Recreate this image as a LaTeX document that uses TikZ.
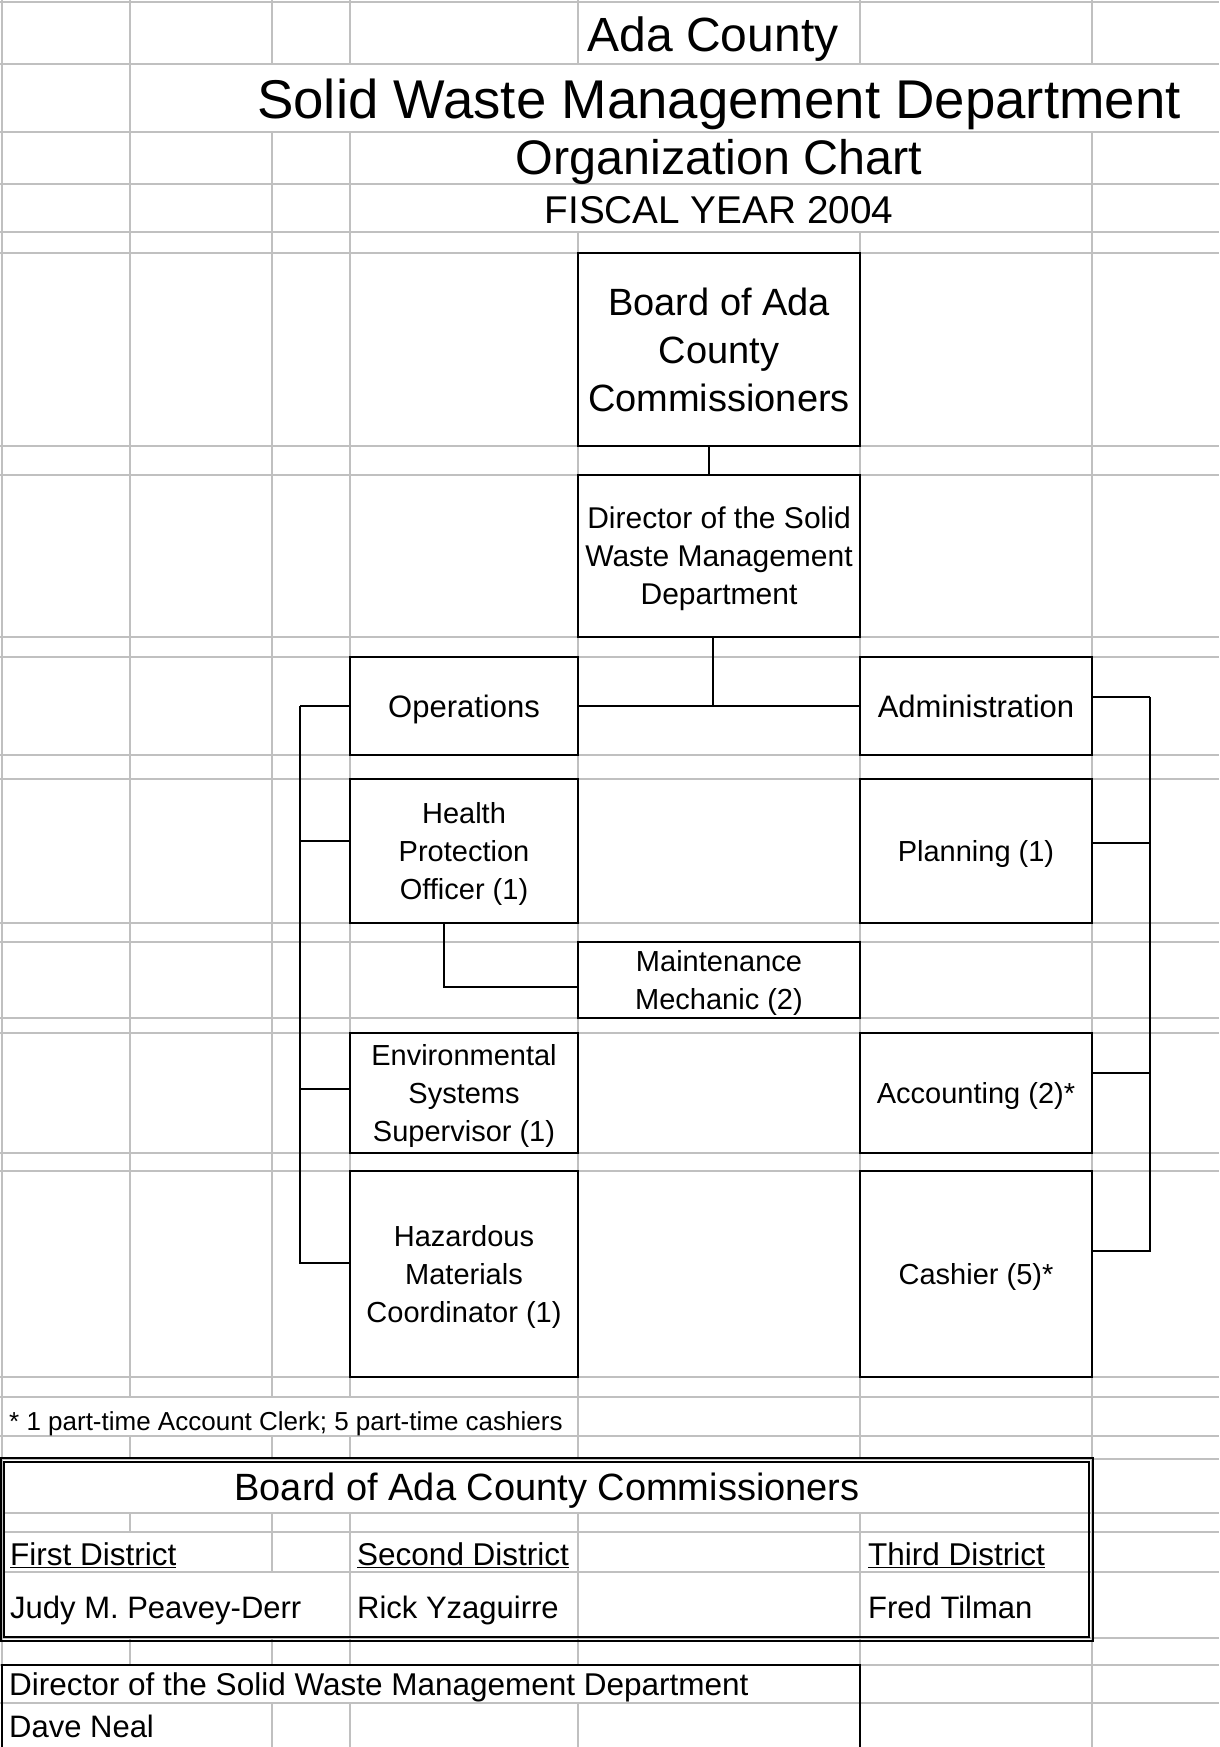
\documentclass[tikz,border=0pt]{standalone}
\usepackage{fontspec}
\setmainfont{Liberation Sans}
\begin{document}
\begin{tikzpicture}[x=1pt,y=-1pt,
  gridline/.style={line width=1.3pt,draw=gridcolor},
  box/.style={draw=black,line width=2pt,fill=white,align=center,inner sep=0pt,text depth=-4.5pt},
  link/.style={line width=1.4pt,draw=black},
  cell/.style={anchor=base west,inner sep=0pt},
  title/.style={anchor=base,inner sep=0pt}]
\definecolor{gridcolor}{RGB}{192,192,192}
\useasboundingbox (0,0) rectangle (1219,1747);
% sheet grid
\foreach \y in {2,64,132,184,232,253,446,475,637,657,755,779,923,942,1018,1033,1153,1171,1377,1397,1436,1459,1513,1532,1572,1638,1665,1703}
  \draw[gridline] (0,\y) -- (1219,\y);
\foreach \x/\a/\b in {2/0/1747,130/0/1397,130/1436/1459,130/1513/1532,130/1638/1665,
  272/0/64,272/132/1397,272/1436/1459,272/1513/1572,272/1638/1665,272/1703/1747,
  350/0/64,350/132/1397,350/1436/1459,350/1513/1665,350/1703/1747,
  578/0/64,578/232/1459,578/1513/1665,578/1703/1747,
  860/0/64,860/232/1459,860/1513/1747,1092/0/64,1092/132/1747}
  \draw[gridline] (\x,\a) -- (\x,\b);
% headings
\node[title,font=\fontsize{48}{58}\selectfont] (county) at (713,52) {Ada County};
\node[title,font=\fontsize{54.6}{64}\selectfont] (dept) at (719,119) {Solid Waste Management Department};
\node[title,font=\fontsize{48.5}{58}\selectfont] (chart) at (719,175) {Organization Chart};
\node[title,font=\fontsize{38.7}{46}\selectfont] (year) at (719,223) {FISCAL YEAR 2004};
% boxes
\node[box,text depth=-2pt,minimum width=282pt,minimum height=193pt,font=\fontsize{38}{48}\selectfont] (board) at (719,349.5) {Board of Ada\\County\\Commissioners};
\node[box,minimum width=282pt,minimum height=162pt,font=\fontsize{30}{38}\selectfont] (director) at (719,556) {Director of the Solid\\Waste Management\\Department};
\node[box,minimum width=228pt,minimum height=98pt,font=\fontsize{31}{38}\selectfont] (ops) at (464,706) {Operations};
\node[box,minimum width=232pt,minimum height=98pt,font=\fontsize{31}{38}\selectfont] (admin) at (976,706) {Administration};
\node[box,minimum width=228pt,minimum height=144pt,font=\fontsize{29}{38}\selectfont] (health) at (464,851) {Health\\Protection\\Officer (1)};
\node[box,minimum width=232pt,minimum height=144pt,font=\fontsize{29}{38}\selectfont] (planning) at (976,851) {Planning (1)};
\node[box,minimum width=282pt,minimum height=76pt,font=\fontsize{29}{38}\selectfont] (maint) at (719,980) {Maintenance\\Mechanic (2)};
\node[box,minimum width=228pt,minimum height=120pt,font=\fontsize{29}{38}\selectfont] (env) at (464,1093) {Environmental\\Systems\\Supervisor (1)};
\node[box,minimum width=232pt,minimum height=120pt,font=\fontsize{29}{38}\selectfont] (acct) at (976,1093) {Accounting (2)*};
\node[box,minimum width=228pt,minimum height=206pt,font=\fontsize{29}{38}\selectfont] (haz) at (464,1274) {Hazardous\\Materials\\Coordinator (1)};
\node[box,minimum width=232pt,minimum height=206pt,font=\fontsize{29}{38}\selectfont] (cashier) at (976,1274) {Cashier (5)*};
% connectors
\draw[link] ([xshift=-10pt]board.south) -- ([xshift=-10pt]director.north);
\draw[link] ([xshift=-6pt]director.south) -- ([xshift=-6pt]director.south |- ops.east);
\draw[link] (ops.east) -- (admin.west);
\draw[link] (ops.west) -- ++(-49,0) coordinate (lbar);
\draw[link] (lbar) -- ([yshift=11pt]haz.west -| lbar) -- ([yshift=11pt]haz.west);
\draw[link] ([yshift=10pt]health.west) -- ([yshift=10pt]health.west -| lbar);
\draw[link] ([yshift=4pt]env.west) -- ([yshift=4pt]env.west -| lbar);
\draw[link] ([xshift=-20pt]health.south) |- ([yshift=-7pt]maint.west);
\draw[link] ([yshift=9pt]admin.east) -- ++(57,0) coordinate (rbar);
\draw[link] (rbar) -- ([yshift=23pt]cashier.east -| rbar) -- ([yshift=23pt]cashier.east);
\draw[link] ([yshift=8pt]planning.east) -- ([yshift=8pt]planning.east -| rbar);
\draw[link] ([yshift=20pt]acct.east) -- ([yshift=20pt]acct.east -| rbar);
% footnote
\node[cell,font=\fontsize{26}{32}\selectfont] (note) at (9,1430) {* 1 part-time Account Clerk; 5 part-time cashiers};
% commissioners table
\draw[line width=2.5pt] (1,1458) rectangle (1093,1641);
\draw[line width=1.2pt] (4,1462) rectangle (1089,1637);
\node[title,font=\fontsize{38}{46}\selectfont] (boardtitle) at (547,1500) {Board of Ada County Commissioners};
\node[cell,font=\fontsize{31.5}{38}\selectfont] (first) at (10,1565) {\underline{First District}};
\node[cell,font=\fontsize{31.5}{38}\selectfont] (second) at (357,1565) {\underline{Second District}};
\node[cell,font=\fontsize{31.5}{38}\selectfont] (third) at (868,1565) {\underline{Third District}};
\node[cell,font=\fontsize{31}{38}\selectfont] (judy) at (10,1618) {Judy M. Peavey-Derr};
\node[cell,font=\fontsize{31}{38}\selectfont] (rick) at (357,1618) {Rick Yzaguirre};
\node[cell,font=\fontsize{31}{38}\selectfont] (fred) at (868,1618) {Fred Tilman};
% director table
\draw[line width=1.4pt] (2,1752) -- (2,1665) -- (860,1665) -- (860,1752);
\node[cell,font=\fontsize{31.5}{38}\selectfont] (dirtitle) at (9,1695) {Director of the Solid Waste Management Department};
\node[cell,font=\fontsize{31}{38}\selectfont] (dave) at (9,1737) {Dave Neal};
\end{tikzpicture}
\end{document}
